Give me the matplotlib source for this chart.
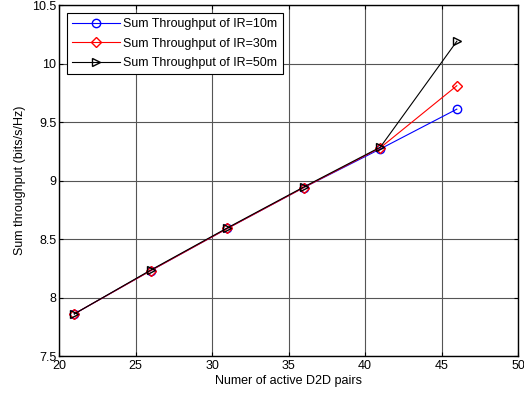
import matplotlib
matplotlib.use('Agg')
import matplotlib.pyplot as plt

plt.rcParams['font.family'] = ['Liberation Sans', 'DejaVu Sans']
plt.rcParams['font.size'] = 9

pairs = [21, 26, 31, 36, 41, 46]
throughput_10m = [7.86, 8.23, 8.59, 8.94, 9.27, 9.61]
throughput_30m = [7.86, 8.23, 8.59, 8.94, 9.28, 9.81]
throughput_50m = [7.86, 8.235, 8.595, 8.945, 9.285, 10.19]
labels = ['Sum Throughput of IR=10m', 'Sum Throughput of IR=30m', 'Sum Throughput of IR=50m']

fig = plt.figure(figsize=(5.24, 3.94), dpi=100)
ax = fig.add_axes([0.1126, 0.0964, 0.876, 0.8909])

ax.plot(pairs, throughput_10m, color='blue', marker='o', mfc='none', ms=6, lw=0.8, label=labels[0])
ax.plot(pairs, throughput_30m, color='red', marker='D', mfc='none', ms=5, lw=0.8, label=labels[1])
ax.plot(pairs, throughput_50m, color='black', marker='>', mfc='none', ms=6, lw=0.8, label=labels[2])

ax.set_xlim(20, 50)
ax.set_ylim(7.5, 10.5)
ax.set_xticks(range(20, 51, 5))
ax.set_yticks([7.5, 8, 8.5, 9, 9.5, 10, 10.5])
ax.set_yticklabels(['7.5', '8', '8.5', '9', '9.5', '10', '10.5'])
ax.grid(True, color='#555555', linestyle='-', linewidth=0.8)
ax.tick_params(direction='in', top=True, right=True, length=3, labelsize=9)
ax.tick_params(axis='x', pad=3)
ax.tick_params(axis='y', pad=2)
for spine in ax.spines.values():
    spine.set_linewidth(1.0)
ax.set_xlabel('Numer of active D2D pairs', labelpad=2)
ax.set_ylabel('Sum throughput (bits/s/Hz)', labelpad=4)

leg = ax.legend(loc='upper left', fancybox=False, edgecolor='black', framealpha=1,
                borderaxespad=0.65, handlelength=3.8, handletextpad=0.3,
                labelspacing=0.6, borderpad=0.4)
leg.get_frame().set_linewidth(0.8)

fig.savefig('out.png', dpi=100)
